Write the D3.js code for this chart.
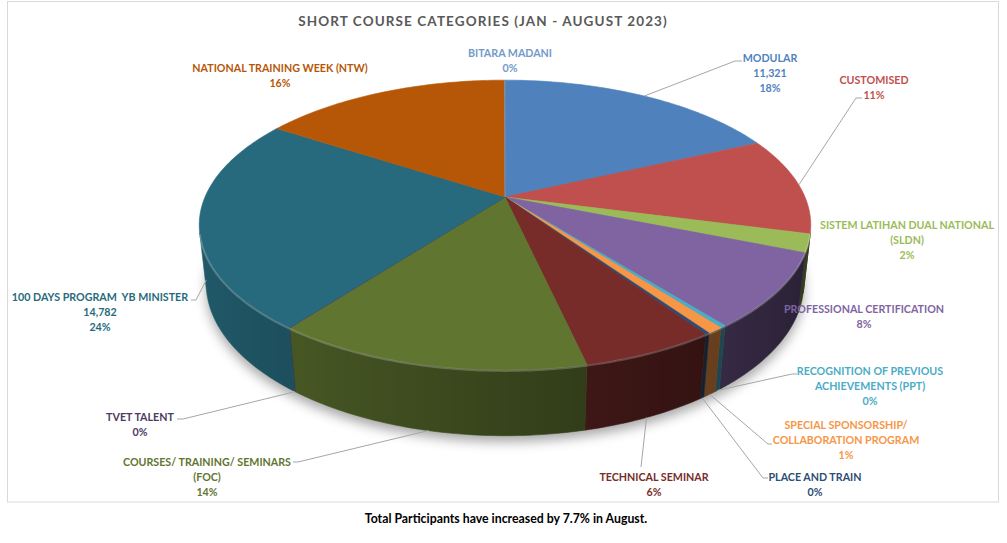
<!DOCTYPE html>
<html>
<head>
<meta charset="utf-8">
<script src="https://cdn.jsdelivr.net/npm/d3@7"></script>
<style>
  body { margin: 0; background: #fff; }
  text { font-family: Lato, "Open Sans", sans-serif; font-weight: 700; white-space: pre; }
</style>
</head>
<body>
<div id="container"></div>
<script>
let w = 1007;
let h = 543;

// data, in the order excel draws the slices (clockwise from 12 o'clock)
let categoryLines = [
  ["MODULAR"],
  ["CUSTOMISED"],
  ["SISTEM LATIHAN DUAL NATIONAL", "(SLDN)"],
  ["PROFESSIONAL CERTIFICATION"],
  ["RECOGNITION OF PREVIOUS", "ACHIEVEMENTS (PPT)"],
  ["SPECIAL SPONSORSHIP/", "COLLABORATION PROGRAM"],
  ["PLACE AND TRAIN"],
  ["TECHNICAL SEMINAR"],
  ["COURSES/ TRAINING/ SEMINARS", "(FOC)"],
  ["TVET TALENT"],
  ["100 DAYS PROGRAM  YB MINISTER"],
  ["NATIONAL TRAINING WEEK (NTW)"],
  ["BITARA MADANI"]
];
let categories = categoryLines.map(l => l.join(" "));
let participants = [11321, 6800, 1250, 5150, 170, 450, 130, 3700, 8700, 20, 14782, 9900, 10];
let showValue = [true, false, false, false, false, false, false, false, false, false, true, false, false];
let sliceColors = ["#4f81bd", "#c0504d", "#9bbb59", "#8064a2", "#4bacc6", "#f79646",
                   "#2c4d75", "#772c2a", "#5f7530", "#4d3b62", "#276a7d", "#b65708", "#729aca"];

let titleText = "SHORT COURSE CATEGORIES (JAN - AUGUST 2023)";
let footerText = "Total Participants have increased by 7.7% in August.";

// label placement (centre of first line) and leader elbows, as excel left them
let labelPos = [[770, 58], [874, 80], [907, 225], [864, 309], [870, 371], [846, 425],
                [815, 477], [654, 477], [207, 462], [140, 417], [100, 297], [280, 68], [510, 53]];
let leaderEnds = [
  [[735, 61], [742, 61]],
  [[856, 98], [862, 98]],
  null,
  null,
  [[792, 374], [797, 374]],
  [[768, 444], [772, 444]],
  [[763, 478], [768, 478]],
  [[641, 467]],
  [[298, 462], [293, 462]],
  [[183, 419], [177, 419]],
  [[196, 300], [191, 300]],
  null,
  null
];

// 3d pie geometry (perspective view of a tilted disc)
let R = 300, tilt = 27.7 * Math.PI / 180, D = 1374, depth = 66;
let cx = 505, cy = 197;

function project(theta, hgt){
  let u = R * Math.sin(theta);
  let v = -R * Math.cos(theta);
  let Y = v * Math.sin(tilt) - hgt * Math.cos(tilt);
  let Z = v * Math.cos(tilt) + hgt * Math.sin(tilt);
  let s = D / (D - Z);
  return [cx + u * s, cy + Y * s];
}

// outer wall faces the camera only where cos(theta) < -R/(D cos tilt)
let visLimit = Math.acos(-R / (D * Math.cos(tilt)));
let vis0 = visLimit, vis1 = 2 * Math.PI - visLimit;

// light comes from the left, the wall gets darker towards the right
function shade(theta){
  return 0.58 - 0.27 * Math.sin(theta);
}

let viz = d3.select("#container")
  .append("svg")
    .attr("width", w)
    .attr("height", h)
    .style("background-color", "white");

let defs = viz.append("defs");
defs.append("filter").attr("id", "blur")
  .attr("x", "-20%").attr("y", "-20%").attr("width", "140%").attr("height", "140%")
  .append("feGaussianBlur").attr("stdDeviation", 6);

// chart area border
viz.append("rect")
  .attr("x", 7.5).attr("y", 1.5)
  .attr("width", 991).attr("height", 500.5)
  .attr("fill", "none")
  .attr("stroke", "#d9d9d9");

viz.append("text")
  .attr("x", 483).attr("y", 21).attr("dy", "0.35em")
  .attr("text-anchor", "middle")
  .attr("fill", "#595959")
  .style("font-size", "13.5px")
  .style("letter-spacing", "1.1px")
  .text(titleText);

let pie = d3.pie().value(d => d).sort(null).startAngle(0).endAngle(2 * Math.PI);
let arcs = pie(participants);
let total = d3.sum(participants);
let pct = d3.format(".0%");
let num = d3.format(",");
let line = d3.line();

function sample(a0, a1, hgt){
  let n = Math.max(2, Math.ceil((a1 - a0) / (Math.PI / 180)));
  let pts = [];
  for (let i = 0; i <= n; i++) pts.push(project(a0 + (a1 - a0) * i / n, hgt));
  return pts;
}

// soft shadow under the disc
let shadowPts = sample(0, 2 * Math.PI, -depth);
viz.append("path")
  .attr("d", line(shadowPts) + "Z")
  .attr("transform", "translate(0,6)")
  .attr("fill", "rgba(0,0,0,0.35)")
  .attr("filter", "url(#blur)");

// outer walls: one path per slice, with a horizontal gradient for the light
let sides = viz.append("g");
arcs.forEach(function(a, i){
  let a0 = Math.max(a.startAngle, vis0);
  let a1 = Math.min(a.endAngle, vis1);
  if (a1 <= a0) return;
  let topPts = sample(a0, a1, 0);
  let botPts = sample(a0, a1, -depth);
  let n = topPts.length - 1;
  let xs = topPts.map(p => p[0]);
  let xMin = d3.min(xs), xMax = d3.max(xs);
  let grad = defs.append("linearGradient")
    .attr("id", "side" + i)
    .attr("gradientUnits", "userSpaceOnUse")
    .attr("x1", xMin).attr("x2", xMax === xMin ? xMin + 1 : xMax)
    .attr("y1", 0).attr("y2", 0);
  let stops = topPts.map(function(p, k){
    let t = a0 + (a1 - a0) * k / n;
    return {x: p[0], col: d3.interpolateRgb("#000000", sliceColors[i])(shade(t))};
  }).sort((p, q) => p.x - q.x);
  stops.forEach(function(s){
    grad.append("stop")
      .attr("offset", xMax === xMin ? 0 : (s.x - xMin) / (xMax - xMin))
      .attr("stop-color", s.col);
  });
  sides.append("path")
    .attr("d", line(topPts.concat(botPts.reverse())) + "Z")
    .attr("fill", "url(#side" + i + ")")
    .attr("stroke", "url(#side" + i + ")")
    .attr("stroke-width", 0.6);
});

// top faces
let tops = viz.append("g");
tops.selectAll("path").data(arcs).enter()
  .append("path")
    .attr("d", function(a){
      return line([[cx, cy]].concat(sample(a.startAngle, a.endAngle, 0))) + "Z";
    })
    .attr("fill", (a, i) => sliceColors[i])
    .attr("stroke", (a, i) => sliceColors[i])
    .attr("stroke-width", 0.6);

// bevel highlight on the front rim
viz.append("path")
  .attr("d", line(sample(vis0, vis1, -1)))
  .attr("fill", "none")
  .attr("stroke", "rgba(255,255,255,0.22)")
  .attr("stroke-width", 2);

// leader lines
let leaders = viz.append("g");
arcs.forEach(function(a, i){
  if (!leaderEnds[i]) return;
  let mid = (a.startAngle + a.endAngle) / 2;
  let start = project(mid, Math.cos(mid) < 0 ? -depth : 0);
  leaders.append("path")
    .attr("d", line([start].concat(leaderEnds[i])))
    .attr("fill", "none")
    .attr("stroke", "#a6a6a6")
    .attr("stroke-width", 1);
});

// data labels
let labels = viz.append("g");
arcs.forEach(function(a, i){
  let lines = categoryLines[i].slice();
  if (showValue[i]) lines.push(num(participants[i]));
  lines.push(pct(participants[i] / total));
  let t = labels.append("text")
    .attr("text-anchor", "middle")
    .attr("fill", sliceColors[i])
    .style("font-size", "10.7px");
  lines.forEach(function(l, k){
    t.append("tspan")
      .attr("x", labelPos[i][0])
      .attr("y", labelPos[i][1] + k * 15.2)
      .attr("dy", "0.35em")
      .text(l);
  });
});

viz.append("text")
  .attr("x", 506).attr("y", 519).attr("dy", "0.35em")
  .attr("text-anchor", "middle")
  .attr("fill", "#000")
  .style("font-size", "12.3px")
  .text(footerText);
</script>
</body>
</html>
